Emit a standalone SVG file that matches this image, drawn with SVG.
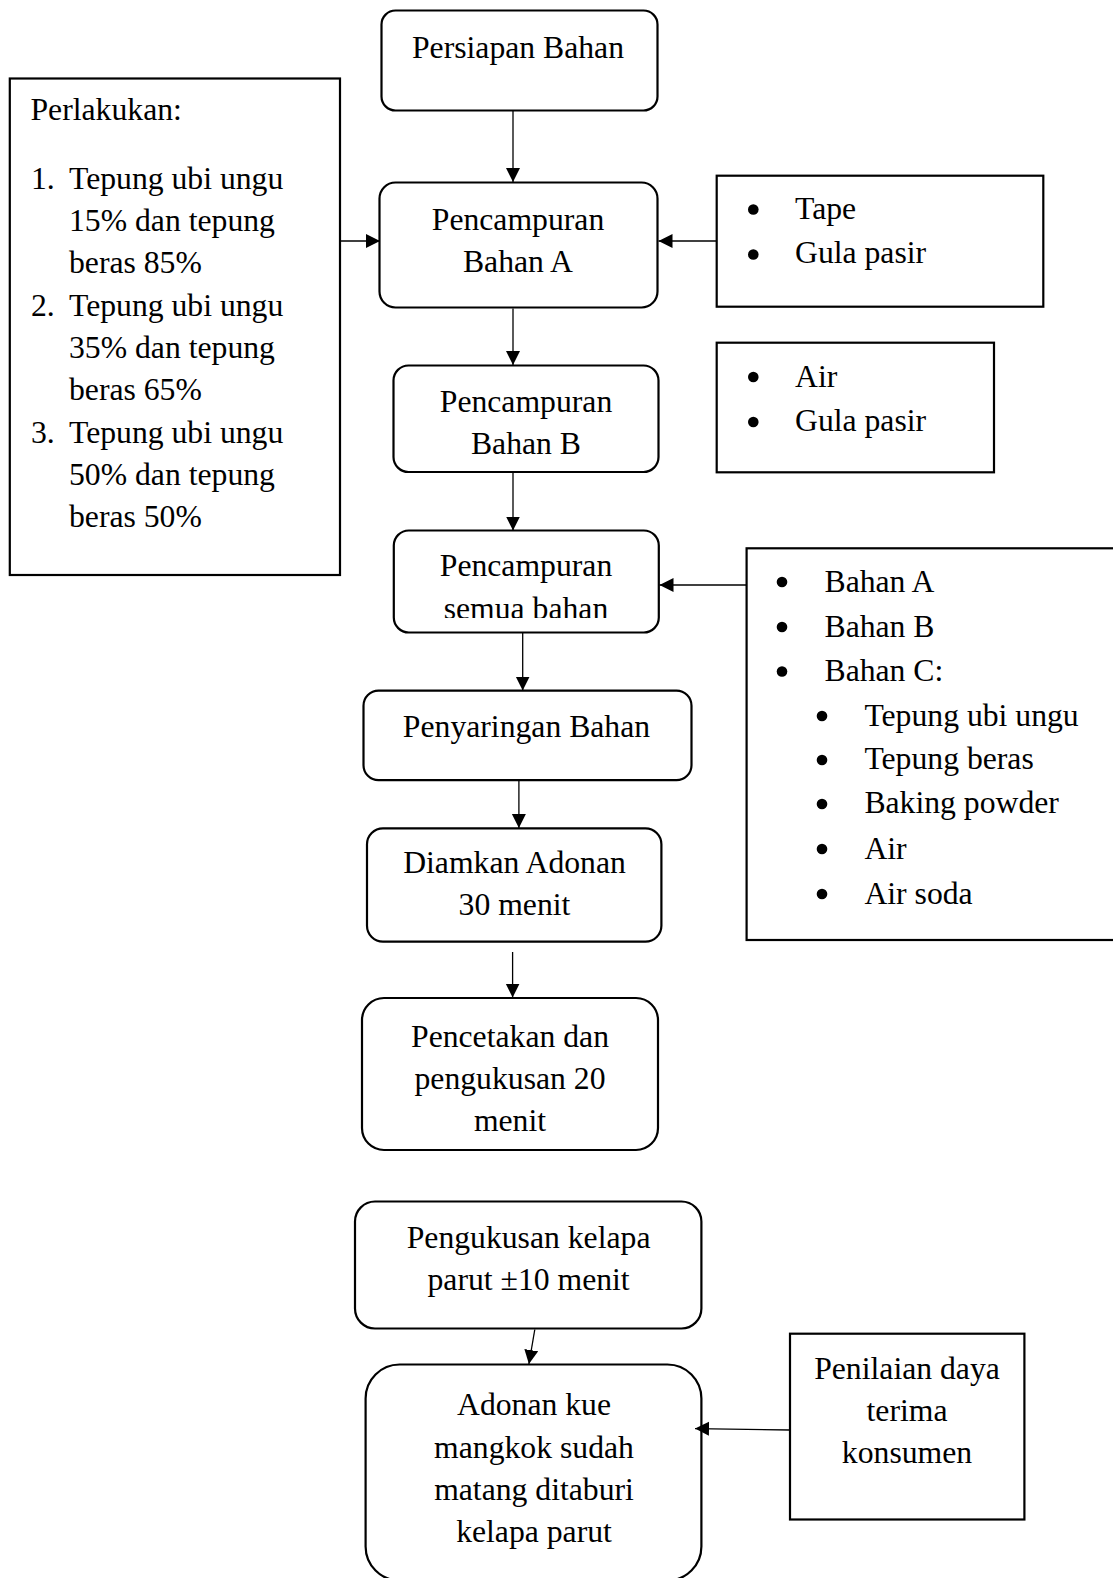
<svg xmlns="http://www.w3.org/2000/svg" width="1113" height="1578" viewBox="0 0 1113 1578">
<style>
text{font-family:"Liberation Serif","Times New Roman",serif;font-size:31.7px;fill:#000}
.c{text-anchor:middle}
.box{fill:#fff;stroke:#000;stroke-width:2.2}
.con line{stroke:#000;stroke-width:1.3}
.dot{fill:#000}
</style>
<defs>
<marker id="ah" markerUnits="userSpaceOnUse" markerWidth="15" markerHeight="15" refX="14" refY="7" orient="auto">
<path d="M0,0 L14,7 L0,14 z" fill="#000"/>
</marker>
<clipPath id="clipSemua"><rect x="394" y="531" width="264" height="87"/></clipPath>
</defs>
<rect width="1113" height="1578" fill="#fff"/>

<g id="n-persiapan">
<rect class="box" x="381.5" y="10.5" width="276" height="100" rx="14"/>
<text class="c" x="518" y="57.5">Persiapan Bahan</text>
</g>

<g id="n-perlakukan">
<rect class="box" x="9.8" y="78.5" width="330.2" height="496.5"/>
<text x="30.5" y="119.5">Perlakukan:</text>
<text x="31" y="189">1.</text>
<text x="69" y="189">Tepung ubi ungu</text>
<text x="69" y="231">15% dan tepung</text>
<text x="69" y="273">beras 85%</text>
<text x="31" y="315.5">2.</text>
<text x="69" y="315.5">Tepung ubi ungu</text>
<text x="69" y="357.5">35% dan tepung</text>
<text x="69" y="400">beras 65%</text>
<text x="31" y="442.5">3.</text>
<text x="69" y="442.5">Tepung ubi ungu</text>
<text x="69" y="485">50% dan tepung</text>
<text x="69" y="527">beras 50%</text>
</g>

<g id="n-bahanA">
<rect class="box" x="379.5" y="182.5" width="278" height="125" rx="16"/>
<text class="c" x="518" y="229.5">Pencampuran</text>
<text class="c" x="518" y="271.5">Bahan A</text>
</g>

<g id="n-tape">
<rect class="box" x="716.7" y="175.7" width="326.6" height="131"/>
<circle class="dot" cx="753.3" cy="209.5" r="5.3"/>
<text x="795" y="219.3">Tape</text>
<circle class="dot" cx="753.3" cy="254.5" r="5.3"/>
<text x="795" y="263.3">Gula pasir</text>
</g>

<g id="n-bahanB">
<rect class="box" x="393.5" y="365.5" width="265" height="106.5" rx="15"/>
<text class="c" x="526" y="412">Pencampuran</text>
<text class="c" x="526" y="454">Bahan B</text>
</g>

<g id="n-air">
<rect class="box" x="716.7" y="342.7" width="277.3" height="129.6"/>
<circle class="dot" cx="753.3" cy="377" r="5.3"/>
<text x="795" y="386.7">Air</text>
<circle class="dot" cx="753.3" cy="422" r="5.3"/>
<text x="795" y="430.7">Gula pasir</text>
</g>

<g id="n-semua">
<rect class="box" x="393.8" y="530.5" width="265" height="102" rx="15"/>
<text class="c" x="526" y="576">Pencampuran</text>
<text class="c" x="526" y="618.5" clip-path="url(#clipSemua)">semua bahan</text>
</g>

<g id="n-bahanC">
<rect class="box" x="746.6" y="548.3" width="400" height="391.7"/>
<circle class="dot" cx="782" cy="582" r="5.3"/>
<text x="824.5" y="591.7">Bahan A</text>
<circle class="dot" cx="782" cy="627" r="5.3"/>
<text x="824.5" y="636.7">Bahan B</text>
<circle class="dot" cx="782" cy="671.5" r="5.3"/>
<text x="824.5" y="681">Bahan C:</text>
<circle class="dot" cx="822" cy="716" r="5.3"/>
<text x="864.4" y="725.7">Tepung ubi ungu</text>
<circle class="dot" cx="822" cy="760" r="5.3"/>
<text x="864.4" y="769.3">Tepung beras</text>
<circle class="dot" cx="822" cy="804" r="5.3"/>
<text x="864.4" y="813.3">Baking powder</text>
<circle class="dot" cx="822" cy="849" r="5.3"/>
<text x="864.4" y="859.3">Air</text>
<circle class="dot" cx="822" cy="894" r="5.3"/>
<text x="864.4" y="904">Air soda</text>
</g>

<g id="n-penyaringan">
<rect class="box" x="363.5" y="690.7" width="328" height="89.5" rx="15"/>
<text class="c" x="526.5" y="736.7">Penyaringan Bahan</text>
</g>

<g id="n-diamkan">
<rect class="box" x="367" y="828.3" width="294.4" height="113.4" rx="16"/>
<text class="c" x="514.5" y="873.3">Diamkan Adonan</text>
<text class="c" x="514.5" y="915">30 menit</text>
</g>

<g id="n-pencetakan">
<rect class="box" x="362" y="998" width="296" height="152" rx="22"/>
<text class="c" x="510" y="1047">Pencetakan dan</text>
<text class="c" x="510" y="1088.5">pengukusan 20</text>
<text class="c" x="510" y="1131">menit</text>
</g>

<g id="n-kelapa">
<rect class="box" x="355" y="1201.5" width="346.4" height="127" rx="20"/>
<text class="c" x="528.6" y="1248.4">Pengukusan kelapa</text>
<text class="c" x="528.6" y="1290.4">parut ±10 menit</text>
</g>

<g id="n-adonan">
<rect class="box" x="365.6" y="1364.5" width="335.8" height="216" rx="34"/>
<text class="c" x="534" y="1415.4">Adonan kue</text>
<text class="c" x="534" y="1458.2">mangkok sudah</text>
<text class="c" x="534" y="1500">matang ditaburi</text>
<text class="c" x="534" y="1542">kelapa parut</text>
</g>

<g id="n-penilaian">
<rect class="box" x="790" y="1333.7" width="234.4" height="185.8"/>
<text class="c" x="907" y="1379.3">Penilaian daya</text>
<text class="c" x="907" y="1420.6">terima</text>
<text class="c" x="907" y="1463.4">konsumen</text>
</g>

<g id="connectors" class="con">
<line x1="513" y1="111" x2="513" y2="182" marker-end="url(#ah)"/>
<line x1="340" y1="241" x2="380" y2="241" marker-end="url(#ah)"/>
<line x1="716.5" y1="241" x2="658.5" y2="241" marker-end="url(#ah)"/>
<line x1="513" y1="308.5" x2="513" y2="365" marker-end="url(#ah)"/>
<line x1="513" y1="472.5" x2="513" y2="530.5" marker-end="url(#ah)"/>
<line x1="746.5" y1="585" x2="659.5" y2="585" marker-end="url(#ah)"/>
<line x1="522.7" y1="633" x2="522.7" y2="690.5" marker-end="url(#ah)"/>
<line x1="518.9" y1="781" x2="518.9" y2="828" marker-end="url(#ah)"/>
<line x1="512.6" y1="952" x2="512.6" y2="997.5" marker-end="url(#ah)"/>
<line x1="534.8" y1="1329.5" x2="528.9" y2="1364" marker-end="url(#ah)"/>
<line x1="790" y1="1430" x2="695" y2="1428.6" marker-end="url(#ah)"/>
</g>
</svg>
